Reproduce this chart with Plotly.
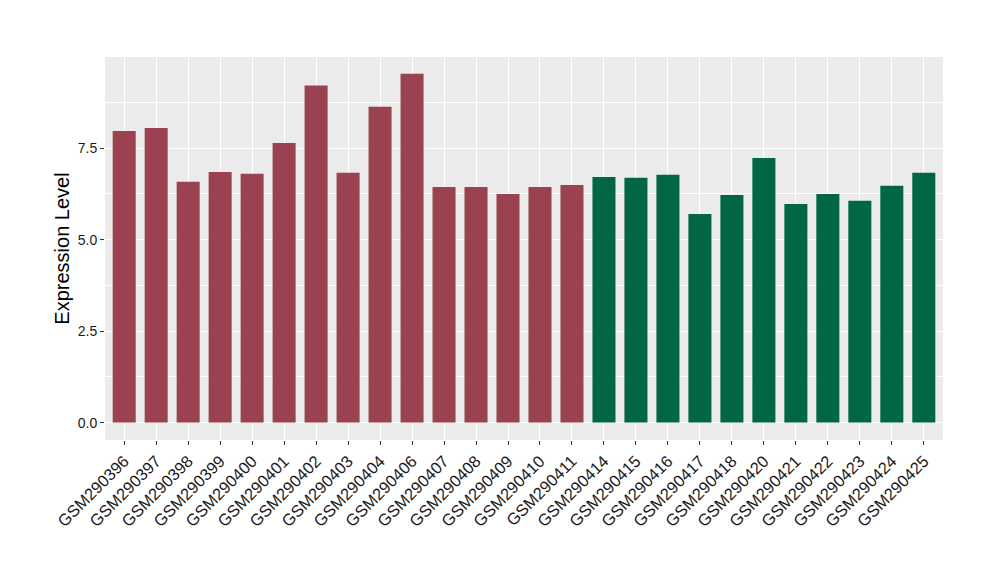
import plotly.graph_objects as go

samples = ["GSM290396","GSM290397","GSM290398","GSM290399","GSM290400","GSM290401",
           "GSM290402","GSM290403","GSM290404","GSM290406","GSM290407","GSM290408",
           "GSM290409","GSM290410","GSM290411","GSM290414","GSM290415","GSM290416",
           "GSM290417","GSM290418","GSM290420","GSM290421","GSM290422","GSM290423",
           "GSM290424","GSM290425"]
values = [7.97, 8.05, 6.58, 6.85, 6.80, 7.64, 9.21, 6.83, 8.63, 9.53, 6.44, 6.44,
          6.25, 6.44, 6.49, 6.71, 6.69, 6.77, 5.70, 6.22, 7.23, 5.97, 6.25, 6.06,
          6.47, 6.83]
groups = ["A"] * 15 + ["B"] * 11
group_colors = {"A": "#9A4250", "B": "#006644"}

fig = go.Figure()
fig.add_trace(go.Bar(
    x=samples, y=values,
    marker=dict(color=[group_colors[g] for g in groups], line=dict(width=0)),
    width=0.72, showlegend=False,
))

fig.update_layout(
    width=1000, height=580,
    margin=dict(l=97, r=65, t=49, b=148),
    paper_bgcolor="white", plot_bgcolor="#EBEBEB",
    font=dict(family="Liberation Sans, Arial, sans-serif", color="#1a1a1a"),
)
fig.update_xaxes(
    range=[-0.6, 25.6], tickangle=-45, tickfont=dict(size=16.5, color="#1a1a1a"),
    showgrid=True, gridcolor="white", gridwidth=1.2,
    ticks="outside", ticklen=4, tickcolor="#333333", tickwidth=1,
    zeroline=False, showline=False, automargin=False,
)
fig.update_yaxes(
    range=[-0.475, 9.99], tick0=0, dtick=2.5, tickformat=".1f",
    tickfont=dict(size=14, color="#1a1a1a"),
    title=dict(text="Expression Level", font=dict(size=20, color="black"), standoff=2),
    showgrid=True, gridcolor="white", gridwidth=1.2,
    minor=dict(showgrid=True, gridcolor="white", gridwidth=0.6, dtick=1.25, tick0=0),
    ticks="outside", ticklen=4, tickcolor="#333333", tickwidth=1,
    zeroline=False, showline=False, automargin=False,
)

fig.write_html("out.html")
